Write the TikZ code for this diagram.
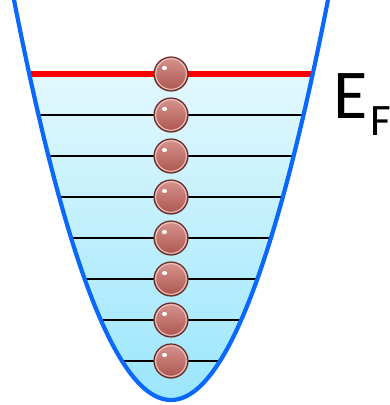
\documentclass[tikz,border=0pt]{standalone}
\usepackage{fontspec}
\setmainfont{Carlito}
\usetikzlibrary{calc, positioning}

\definecolor{wellblue}{RGB}{10,105,250}
\definecolor{seatop}{RGB}{226,248,254}
\definecolor{seabottom}{RGB}{155,230,252}
\definecolor{ballin}{RGB}{215,148,143}
\definecolor{ballout}{RGB}{172,84,78}
\definecolor{ballrim}{RGB}{105,45,40}

\tikzset{
  electron/.style={circle, minimum size=34pt, inner sep=0pt, shading=axis,
    shading angle=45, top color=ballin, bottom color=ballout,
    draw=ballrim, line width=1.2pt},
  level/.style={black, line width=2.5pt},
  fermi/.style={red, line width=6pt}
}

\begin{document}
\begin{tikzpicture}[x=1pt,y=-1pt]
\useasboundingbox (0,0) rectangle (389,405);

% filled sea below the Fermi level
\pgfmathsetmacro{\wf}{7.849*sqrt(400-74)}
\shade[top color=seatop, bottom color=seabottom]
  plot[domain=171-\wf:171+\wf, samples=120] (\x, {400-((\x-171)/7.849)^2}) -- cycle;

% energy levels
\foreach \i in {1,...,7} {
  \pgfmathsetmacro{\yy}{74+41*\i}
  \pgfmathsetmacro{\ww}{7.849*sqrt(400-\yy)}
  \coordinate (l\i) at (171-\ww,\yy);
  \coordinate (r\i) at (171+\ww,\yy);
  \draw[level] (l\i) -- (r\i);
}
\coordinate (lf) at (171-\wf,74);
\coordinate (rf) at (171+\wf,74);
\draw[fermi] (lf) -- (rf);

% the well
\draw[wellblue, line width=4.2pt]
  plot[domain=14:328, samples=160] (\x, {400-((\x-171)/7.849)^2});

% electrons
\foreach \i in {0,...,7} {
  \node[electron] (e\i) at (171,74+41*\i) {};
  \draw[ballin!55!white, line width=1pt] (e\i) circle[radius=15.3];
  \fill[white] (e\i) ++(-6.5,-6) ellipse[x radius=2.6, y radius=2];
}

\node[anchor=base west, inner sep=0pt, font=\fontsize{70}{70}\selectfont] (ef) at (333,118) {E};
\node[anchor=base west, inner sep=0pt, font=\fontsize{45}{45}\selectfont] (sub) at (370,135) {F};
\end{tikzpicture}
\end{document}
